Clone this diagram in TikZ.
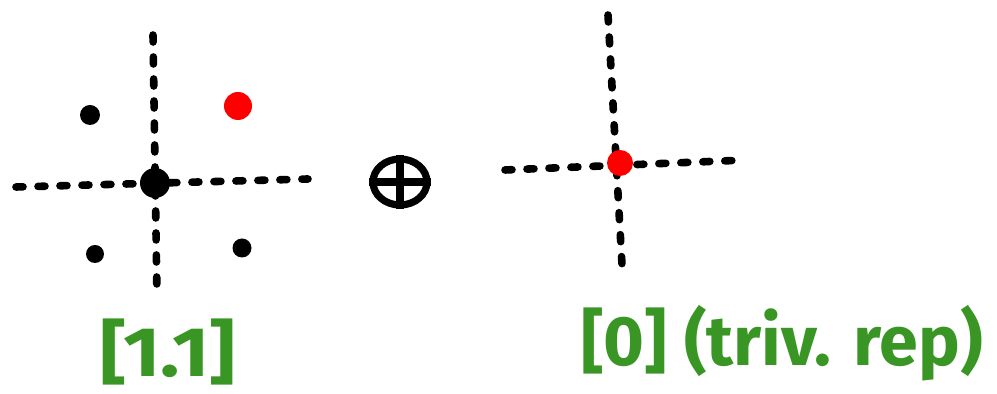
\documentclass[tikz,border=0pt]{standalone}
\usepackage{xcolor}
\usepackage{fontspec}
\setsansfont{Fira Sans}
\usepackage{tikz}
\usetikzlibrary{positioning, shapes.geometric}
\definecolor{markergreen}{RGB}{58,150,36}

\begin{document}
\begin{tikzpicture}[
  % pixel grid of the sketch, y pointing down
  x=0.5pt,
  y=-0.5pt,
  axis/.style={line width=3.8pt, line cap=round, dash pattern=on 3.5pt off 7.5pt},
  weight/.style={circle, fill=black, inner sep=0pt, minimum size=#1},
  highest/.style={circle, fill=red, inner sep=0pt, minimum size=#1},
  reptext/.style={text=markergreen, font=\sffamily\bfseries\fontsize{35}{35}\selectfont}
]
  \useasboundingbox (0,0) rectangle (997,394);

  % Weight diagram of [1.1]
  \coordinate (lw) at (16,187);
  \coordinate (le) at (308,179);
  \coordinate (ln) at (153,35);
  \coordinate (ls) at (157,297);
  \draw[axis] (lw) -- (le);
  \draw[axis] (ln) -- (ls);
  \node[weight=15pt] (zero) at (155,183) {};
  \node[weight=10pt] (w1) at (90,115) {};
  \node[highest=14pt] (hw) at (238,106) {};
  \node[weight=9pt] (w2) at (95,254) {};
  \node[weight=9.5pt] (w3) at (242,248) {};

  % Direct sum
  \node[draw, ellipse, line width=3.6pt, minimum width=27pt, minimum height=23pt] (oplus) at (400,182) {};
  \draw[line width=3.6pt] (oplus.west) -- (oplus.east);
  \draw[line width=3.6pt] (oplus.north) -- (oplus.south);

  % Weight diagram of [0]
  \coordinate (rw) at (505,170);
  \coordinate (re) at (746,160);
  \coordinate (rn) at (608,15);
  \coordinate (rs) at (622,265);
  \draw[axis] (rw) -- (re);
  \draw[axis] (rn) -- (rs);
  \node[highest=13pt] (triv) at (620,163) {};

  % Labels
  \node[reptext, xscale=1.15] (lab1) at (168,352) {[1.1]};
  \node[reptext] (lab0) at (782,343) {[0] (triv. rep)};
\end{tikzpicture}
\end{document}
